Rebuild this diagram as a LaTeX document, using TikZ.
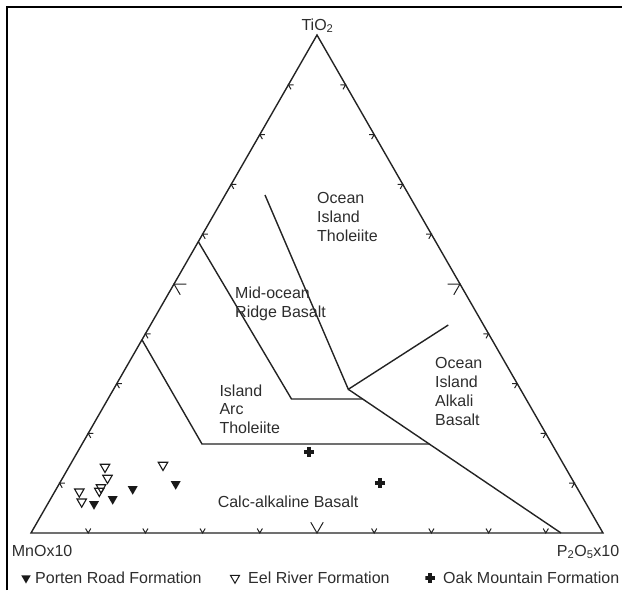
\documentclass[tikz,border=0pt]{standalone}
\usepackage{fontspec}
\setmainfont{Liberation Sans}
\usetikzlibrary{calc,shapes.geometric}
\definecolor{lineC}{RGB}{35,35,35}
\definecolor{textC}{RGB}{45,45,45}
\definecolor{markC}{RGB}{25,25,25}
\begin{document}
\begin{tikzpicture}[x=1pt,y=-1pt,
  axisline/.style={draw=lineC,line width=1.4pt,line join=miter},
  fieldline/.style={draw=lineC,line width=1.4pt},
  tickmark/.style={draw=lineC,line width=1pt},
  framebar/.style={draw=black,line width=2.3pt,line join=miter},
  lbl/.style={font=\fontsize{16}{19}\selectfont,text=textC,inner sep=0pt},
  fdtri/.style={regular polygon,regular polygon sides=3,shape border rotate=180,
     minimum size=11.5pt,inner sep=0pt,fill=markC},
  odtri/.style={regular polygon,regular polygon sides=3,shape border rotate=180,
     minimum size=11pt,inner sep=0pt,draw=markC,line width=1.1pt},
  plusmk/.style={minimum size=10.5pt,inner sep=0pt,
     path picture={\draw[markC,line width=3.3pt]
       (path picture bounding box.west) -- (path picture bounding box.east)
       (path picture bounding box.north) -- (path picture bounding box.south);}}
]
\useasboundingbox (0,0) rectangle (622,590);
% frame
\draw[framebar] (6.7,590) -- (6.7,6.7) -- (622,6.7);

% triangle
\coordinate (A) at (31,533);
\coordinate (B) at (603,533);
\coordinate (C) at (317,35);
\draw[axisline] (A) -- (B) -- (C) -- cycle;

% ticks
\foreach \i in {1,2,3,4,6,7,8,9}{
  \draw[tickmark] ($(A)!\i/10!(B)$) ++(-2.6,-4.5) -- ++(2.6,4.5) -- ++(2.6,-4.5);
  \draw[tickmark] ($(A)!\i/10!(C)$) ++(5.2,0) -- ++(-5.2,0) -- ++(2.6,4.5);
  \draw[tickmark] ($(B)!\i/10!(C)$) ++(-5.2,0) -- ++(5.2,0) -- ++(-2.6,4.5);
}
\draw[tickmark] ($(A)!0.5!(B)$) ++(-6.2,-10.7) -- ++(6.2,10.7) -- ++(6.2,-10.7);
\draw[tickmark] ($(A)!0.5!(C)$) ++(12.4,0) -- ++(-12.4,0) -- ++(6.2,10.7);
\draw[tickmark] ($(B)!0.5!(C)$) ++(-12.4,0) -- ++(12.4,0) -- ++(-6.2,10.7);

% field boundaries
\coordinate (oitTop) at (265,195);
\coordinate (V) at (348.3,389.3);
\coordinate (oiaTop) at (448.3,325);
\coordinate (longEnd) at (561,533);
\coordinate (morbL) at ($(A)!0.585!(C)$);
\coordinate (morbK) at (291.5,399);
\coordinate (morbR) at (362.7,399);
\coordinate (iatL) at ($(A)!0.388!(C)$);
\coordinate (iatK) at (202,444);
\coordinate (iatR) at (429.3,444);
\draw[fieldline] (oitTop) -- (V) -- (oiaTop);
\draw[fieldline] (V) -- (longEnd);
\draw[fieldline] (morbL) -- (morbK) -- (morbR);
\draw[fieldline] (iatL) -- (iatK) -- (iatR);

% apex and corner labels
\node[lbl,anchor=base] (ti) at (317.5,30) {TiO\textsubscript{2}};
\node[lbl,anchor=base west] (mn) at (11.7,556.7) {MnOx10};
\node[lbl,anchor=base west] (p2) at (556.7,556) {P\textsubscript{2}O\textsubscript{5}x10};

% field labels
\node[lbl,anchor=base west] (oit1) at (317,203) {Ocean};
\node[lbl,anchor=base west] (oit2) at (317,222) {Island};
\node[lbl,anchor=base west] (oit3) at (317,241) {Tholeiite};
\node[lbl,anchor=base west] (morb1) at (235,298.3) {Mid-ocean};
\node[lbl,anchor=base west] (morb2) at (235,317) {Ridge Basalt};
\node[lbl,anchor=base west] (iat1) at (219.3,396) {Island};
\node[lbl,anchor=base west] (iat2) at (219.3,414.5) {Arc};
\node[lbl,anchor=base west] (iat3) at (219.3,433.3) {Tholeiite};
\node[lbl,anchor=base west] (oia1) at (435,368.3) {Ocean};
\node[lbl,anchor=base west] (oia2) at (435,387) {Island};
\node[lbl,anchor=base west] (oia3) at (435,406) {Alkali};
\node[lbl,anchor=base west] (oia4) at (435,425) {Basalt};
\node[lbl,anchor=base east] (cab) at (358.5,507) {Calc-alkaline Basalt};

% data: Eel River (open)
\node[odtri] (e1) at (105,467) {};
\node[odtri] (e2) at (107.5,478) {};
\node[odtri] (e3) at (101,487.5) {};
\node[odtri] (e4) at (99.3,491) {};
\node[odtri] (e5) at (79.3,491.7) {};
\node[odtri] (e6) at (81.7,501.7) {};
\node[odtri] (e7) at (163,465) {};
% data: Porten Road (filled)
\node[fdtri] (p1) at (94,504) {};
\node[fdtri] (p3) at (112.7,499) {};
\node[fdtri] (p4) at (132.7,489) {};
\node[fdtri] (p5) at (175.7,484) {};
% data: Oak Mountain (plus)
\node[plusmk] (o1) at (309,452) {};
\node[plusmk] (o2) at (380,483) {};

% legend
\node[fdtri,minimum size=11pt] (lg1) at (26,578) {};
\node[lbl,anchor=base west] (lt1) at (35,583.3) {Porten Road Formation};
\node[odtri,minimum size=10.5pt,line width=1pt] (lg2) at (235,578) {};
\node[lbl,anchor=base west] (lt2) at (248,583.3) {Eel River Formation};
\node[plusmk,minimum size=9.5pt] (lg3) at (430,578) {};
\node[lbl,anchor=base west] (lt3) at (443,583.3) {Oak Mountain Formation};
\end{tikzpicture}
\end{document}
